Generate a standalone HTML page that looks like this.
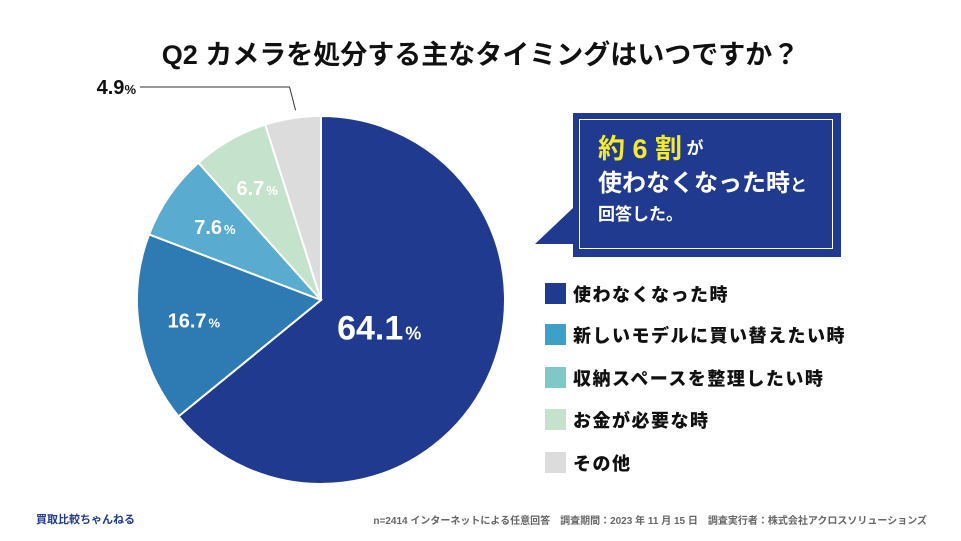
<!DOCTYPE html>
<html><head><meta charset="utf-8"><style>
body{margin:0;width:961px;height:541px;background:#fff;overflow:hidden;font-family:"Liberation Sans","Noto Sans CJK JP",sans-serif;position:relative}
.abs{position:absolute;white-space:nowrap}
.leg{position:absolute;left:545px;width:380px;height:22px;font-size:18px;letter-spacing:1.5px;font-weight:bold;color:#111;white-space:nowrap}
.leg span{position:absolute;left:0;top:0;width:21px;height:21px}
.leg b{position:absolute;left:28px;top:-2px;white-space:nowrap}
</style></head><body>
<div class="abs" style="left:0;width:961px;text-align:center;top:33px;font-size:27px;font-weight:bold;color:#111">Q2 カメラを処分する主なタイミングはいつですか？</div>
<svg id="pie" width="961" height="541" style="position:absolute;left:0;top:0"></svg>
<div class="abs" style="left:573px;top:113px;width:268px;height:144px;background:#1f3a8f"></div>
<div class="abs" style="left:579px;top:119px;width:254px;height:130px;border:1px solid #fff;box-sizing:border-box"></div>
<svg class="abs" style="left:530px;top:200px" width="50" height="50"><polygon points="5,44 43,44 43,8" fill="#1f3a8f"/></svg>
<div class="abs" style="left:598px;top:136px;color:#fff;font-weight:bold;line-height:1">
<div><span style="color:#f5ea2b;font-size:27px">約 6 割</span> <span style="font-size:17px;vertical-align:4px">が</span></div>
<div style="font-size:24px;margin-top:9px">使わなくなった時<span style="font-size:17px">と</span></div>
<div style="font-size:17px;margin-top:10px">回答した。</div></div>
<div class="leg" style="top:283px"><span style="background:#1f3a8f"></span><b>使わなくなった時</b></div>
<div class="leg" style="top:324px"><span style="background:#3ea0c8"></span><b>新しいモデルに買い替えたい時</b></div>
<div class="leg" style="top:367px"><span style="background:#7ec8c8"></span><b>収納スペースを整理したい時</b></div>
<div class="leg" style="top:409px"><span style="background:#c5e2cc"></span><b>お金が必要な時</b></div>
<div class="leg" style="top:452px"><span style="background:#dcdcdc"></span><b>その他</b></div>
<div class="abs" style="left:36px;top:511px;font-size:11px;font-weight:bold;color:#1f3a8f">買取比較ちゃんねる</div>
<div class="abs" style="right:34px;top:512px;font-size:10px;font-weight:bold;color:#666">n=2414 インターネットによる任意回答　調査期間：2023 年 11 月 15 日　調査実行者：株式会社アクロスソリューションズ</div>
<script>
const categories=["使わなくなった時","新しいモデルに買い替えたい時","収納スペースを整理したい時","お金が必要な時","その他"];
const values=[64.1,16.7,7.6,6.7,4.9];
const labels=["64.1","16.7","7.6","6.7","4.9"];
const colors=["#1f3a8f","#2e7bb4","#5aabd0","#c5e2cc","#dcdcdc"];
const svg=document.getElementById('pie');
const NS="http://www.w3.org/2000/svg";
const cx=321,cy=300,R=184;
const total=values.reduce((a,b)=>a+b,0);
function pt(a,r){return [cx+r*Math.sin(a),cy-r*Math.cos(a)];}
let a0=0;
values.forEach((v,i)=>{
 const a1=a0+v/total*2*Math.PI;
 const p0=pt(a0,R),p1=pt(a1,R);
 const path=document.createElementNS(NS,'path');
 path.setAttribute('d',`M${cx},${cy}L${p0[0]},${p0[1]}A${R},${R} 0 ${a1-a0>Math.PI?1:0} 1 ${p1[0]},${p1[1]}Z`);
 path.setAttribute('fill',colors[i]);path.setAttribute('stroke','#fff');path.setAttribute('stroke-width','2');
 
 
 svg.appendChild(path);
 const mid=(a0+a1)/2;
 if(i<4){
  const r=i==0?R*0.35:R*0.7;
  const p=pt(mid,r);
  const t=document.createElementNS(NS,'text');
  t.setAttribute('x',p[0]);t.setAttribute('y',p[1]+(i==0?12:7));
  t.setAttribute('text-anchor','middle');t.setAttribute('fill','#fff');t.setAttribute('font-weight','bold');
  t.setAttribute('font-size',i==0?34:20);
  
  
  t.innerHTML=labels[i]+`<tspan font-size="${i==0?18:13}" dx="2">%</tspan>`;
  svg.appendChild(t);
 } else {
  const p=pt(mid,R+8);
  const l=document.createElementNS(NS,'polyline');
  l.setAttribute('points',`${p[0]+4},${p[1]} ${p[0]-2},${87} 140,87`);
  l.setAttribute('fill','none');l.setAttribute('stroke','#333');l.setAttribute('stroke-width','1');
  
  
  svg.appendChild(l);
  const t=document.createElementNS(NS,'text');
  t.setAttribute('x',136);t.setAttribute('y',94);t.setAttribute('text-anchor','end');
  t.setAttribute('font-weight','bold');t.setAttribute('font-size','20');t.setAttribute('fill','#111');
  
  
  t.innerHTML=labels[i]+'<tspan font-size="13">%</tspan>';
  svg.appendChild(t);
 }
 a0=a1;
});
</script>
</body></html>
